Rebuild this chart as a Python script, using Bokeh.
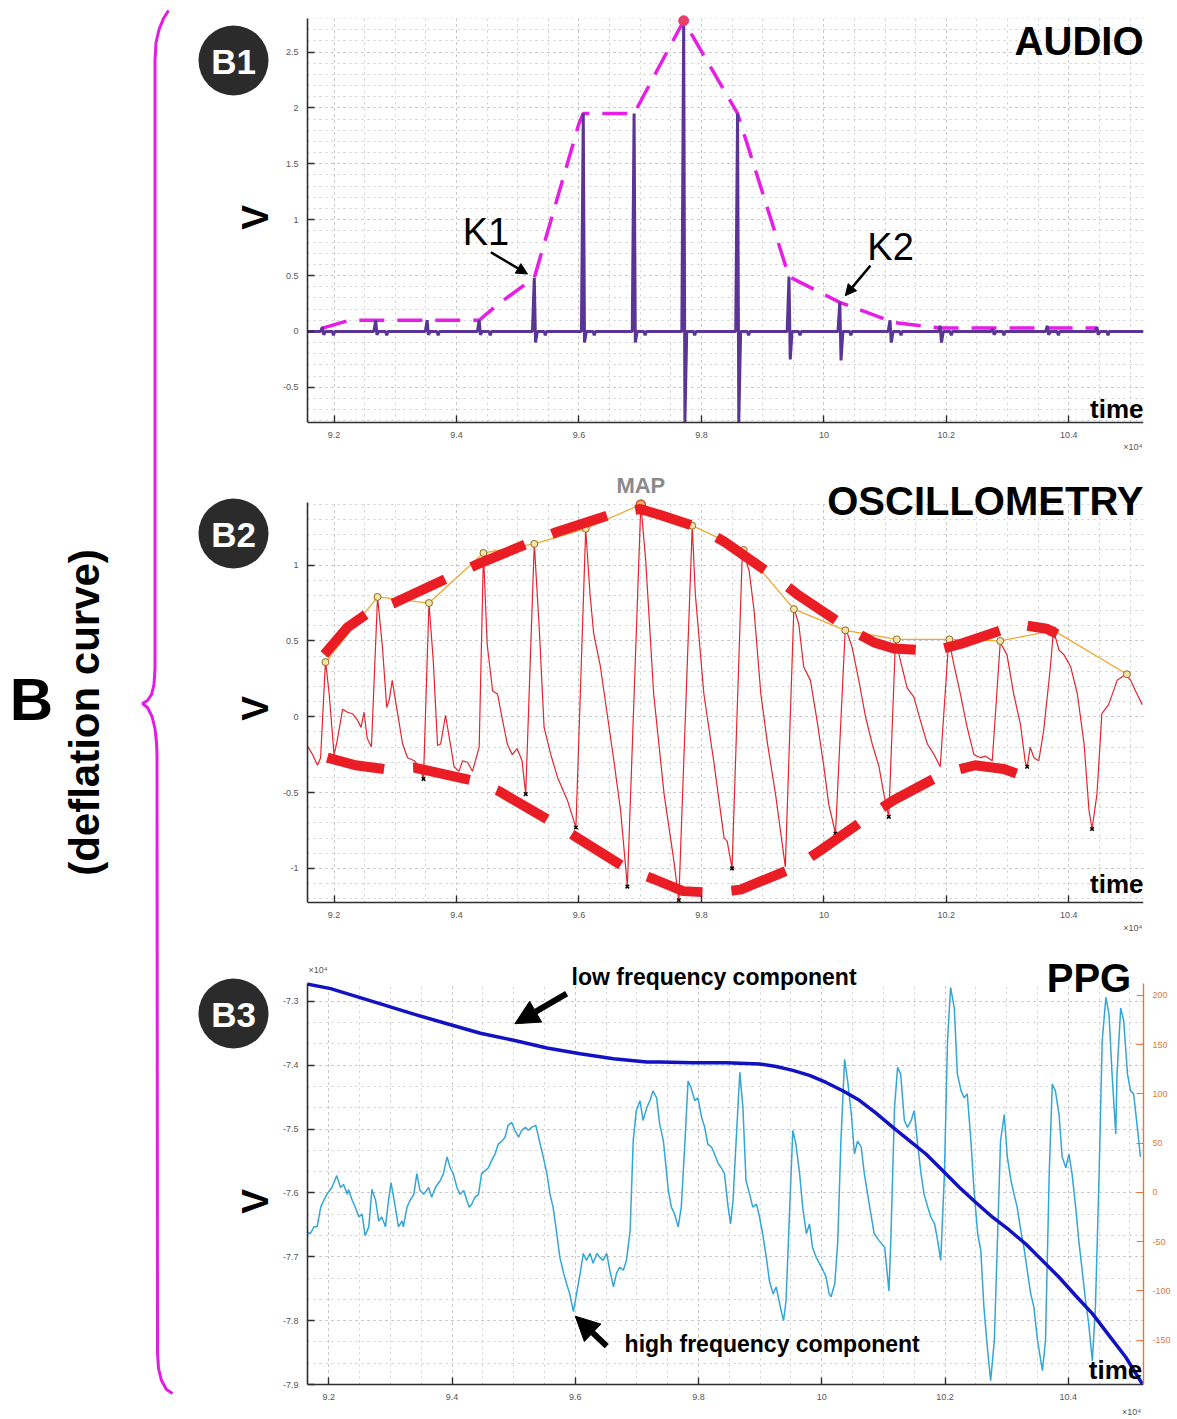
import math
from bokeh.plotting import figure
from bokeh.layouts import row, column
from bokeh.models import (Range1d, LinearAxis, SingleIntervalTicker, NumeralTickFormatter,
                          Label, Arrow, NormalHead, BoxAnnotation, Grid)
from bokeh.core.properties import value
from bokeh.embed import file_html
from bokeh.resources import INLINE

FONT = "Liberation Sans"

# ---------------- time axis (x 10^4 samples) ----------------
T_LO, T_HI = 9.1566, 10.522
T3_LO = 9.1655

# ---------------- B1: audio (Korotkoff sounds) ----------------
AUDIO_LIM = (-0.815, 2.80)
beat_time = [9.181, 9.268, 9.352, 9.437, 9.527, 9.607, 9.690, 9.771,
             9.859, 9.943, 10.026, 10.108, 10.190, 10.276, 10.365, 10.446]
beat_peak = [0.04, 0.10, 0.10, 0.10, 0.48, 1.95, 1.95, 2.78,
             1.95, 0.49, 0.26, 0.10, 0.05, 0.02, 0.05, 0.04]
beat_trough = [-0.03, -0.03, -0.03, -0.03, -0.10, -0.10, -0.10, -0.81,
               -0.81, -0.25, -0.26, -0.10, -0.10, -0.03, -0.03, -0.03]
env_time = [9.181, 9.225, 9.268, 9.352, 9.437, 9.467, 9.527, 9.600, 9.607,
            9.690, 9.771, 9.859, 9.943, 10.026, 10.114, 10.190, 10.276, 10.365, 10.446]
env_value = [0.03, 0.10, 0.10, 0.10, 0.10, 0.24, 0.48, 1.86, 1.95,
             1.95, 2.78, 1.95, 0.49, 0.26, 0.08, 0.03, 0.03, 0.03, 0.03]

# ---------------- B2: oscillometry ----------------
OSC_LIM = (-1.225, 1.413)
osc_t = [9.156, 9.165, 9.173, 9.178, 9.186, 9.192, 9.200, 9.205, 9.214, 9.222, 9.230, 9.238,
         9.244, 9.249, 9.254, 9.261, 9.271, 9.279, 9.286, 9.290, 9.295, 9.303, 9.312, 9.320,
         9.331, 9.339, 9.346, 9.355, 9.362, 9.369, 9.374, 9.382, 9.390, 9.396, 9.404, 9.410,
         9.418, 9.426, 9.437, 9.444, 9.450, 9.459, 9.467, 9.475, 9.483, 9.491, 9.499, 9.507,
         9.513, 9.527, 9.535, 9.543, 9.554, 9.565, 9.581, 9.595, 9.611, 9.618, 9.624, 9.635,
         9.646, 9.657, 9.668, 9.679, 9.701, 9.709, 9.722, 9.739, 9.755, 9.763, 9.785, 9.790,
         9.804, 9.820, 9.837, 9.842, 9.850, 9.867, 9.878, 9.886, 9.897, 9.908, 9.921, 9.937,
         9.951, 9.959, 9.967, 9.978, 9.989, 10.000, 10.008, 10.019, 10.035, 10.046, 10.057,
         10.068, 10.079, 10.090, 10.098, 10.106, 10.117, 10.125, 10.136, 10.147, 10.158,
         10.169, 10.180, 10.190, 10.204, 10.212, 10.223, 10.234, 10.245, 10.256, 10.264,
         10.275, 10.288, 10.299, 10.310, 10.321, 10.329, 10.332, 10.337, 10.343, 10.351,
         10.359, 10.370, 10.375, 10.384, 10.392, 10.403, 10.414, 10.425, 10.433, 10.438,
         10.446, 10.454, 10.465, 10.479, 10.493, 10.501, 10.509, 10.520]
osc_v = [-0.19, -0.25, -0.32, -0.27, 0.37, 0.15, -0.25, -0.16, 0.05, 0.03, 0.02, -0.02,
         -0.07, 0.03, -0.14, -0.20, 0.79, 0.46, 0.06, 0.11, 0.24, 0.04, -0.18, -0.27,
         -0.29, -0.33, -0.41, 0.75, 0.37, -0.19, -0.18, 0.01, -0.18, -0.33, -0.36, -0.29,
         -0.30, -0.36, -0.20, 1.08, 0.48, 0.17, 0.15, -0.02, -0.18, -0.25, -0.21, -0.29,
         -0.51, 1.14, 0.59, -0.07, -0.25, -0.40, -0.55, -0.73, 1.24, 0.81, 0.55, 0.33,
         0.02, -0.29, -0.62, -1.12, 1.40, 1.03, 0.15, -0.51, -0.95, -1.21, 1.26, 0.81,
         0.15, -0.29, -0.80, -0.82, -1.00, 1.11, 0.96, 0.70, 0.15, -0.18, -0.51, -0.99,
         0.72, 0.61, 0.33, 0.24, -0.03, -0.33, -0.58, -0.77, 0.59, 0.46, 0.24,
         0.00, -0.18, -0.33, -0.51, -0.66, 0.51, 0.37, 0.19, 0.13, -0.03,
         -0.18, -0.25, -0.33, 0.51, 0.35, 0.15, -0.07, -0.25, -0.27, -0.26,
         -0.29, 0.49, 0.41, 0.15, -0.05, -0.30, -0.33, -0.20, -0.27, -0.29,
         -0.09, 0.33, 0.57, 0.44, 0.41, 0.33, 0.15, -0.18, -0.62, -0.74,
         -0.51, 0.02, 0.08, 0.24, 0.28, 0.24, 0.17, 0.08]
peak_t = [9.186, 9.271, 9.355, 9.444, 9.527, 9.611, 9.701, 9.785, 9.869, 9.951,
          10.035, 10.119, 10.205, 10.288, 10.375, 10.495]
peak_v = [0.36, 0.79, 0.75, 1.08, 1.14, 1.24, 1.40, 1.26, 1.10, 0.71,
          0.57, 0.51, 0.51, 0.50, 0.57, 0.28]
map_index = 6
trough_t = [9.346, 9.513, 9.595, 9.679, 9.763, 9.850, 10.019, 10.106, 10.332, 10.438]
trough_v = [-0.41, -0.51, -0.73, -1.12, -1.21, -1.00, -0.77, -0.66, -0.33, -0.74]
upper_t = [9.184, 9.222, 9.254, 9.298, 9.388, 9.431, 9.521, 9.565, 9.657, 9.700, 9.733,
           9.801, 9.839, 9.924, 9.959, 10.041, 10.082, 10.114, 10.180, 10.223, 10.318,
           10.364, 10.381]
upper_v = [0.41, 0.59, 0.68, 0.75, 0.92, 1.00, 1.15, 1.22, 1.34, 1.37, 1.33,
           1.24, 1.15, 0.91, 0.80, 0.58, 0.49, 0.45, 0.435, 0.48, 0.61,
           0.58, 0.545]
lower_t = [9.189, 9.235, 9.282, 9.331, 9.426, 9.469, 9.554, 9.592, 9.679, 9.722, 9.770,
           9.818, 9.864, 9.954, 9.995, 10.076, 10.114, 10.198, 10.247, 10.294, 10.340]
lower_v = [-0.27, -0.32, -0.345, -0.335, -0.42, -0.49, -0.69, -0.785, -1.005, -1.07, -1.15,
           -1.16, -1.14, -0.99, -0.88, -0.65, -0.55, -0.37, -0.32, -0.345, -0.41]

# ---------------- B3: PPG ----------------
PPG_LIM = (-7.9, -7.272)
HF_LIM = (-195, 212)
lf_t = [9.160, 9.203, 9.284, 9.338, 9.392, 9.446, 9.500, 9.554, 9.608, 9.662, 9.716,
        9.737, 9.791, 9.845, 9.899, 9.926, 9.953, 9.980, 10.007, 10.034, 10.061, 10.088,
        10.115, 10.142, 10.169, 10.196, 10.223, 10.250, 10.277, 10.304, 10.331, 10.358,
        10.385, 10.412, 10.439, 10.466, 10.493, 10.520]
lf_v = [-7.272, -7.280, -7.304, -7.320, -7.335, -7.350, -7.361, -7.373, -7.382, -7.390,
        -7.395, -7.395, -7.396, -7.396, -7.398, -7.402, -7.408, -7.416, -7.427, -7.440,
        -7.455, -7.475, -7.497, -7.518, -7.539, -7.565, -7.591, -7.615, -7.638, -7.658,
        -7.680, -7.706, -7.732, -7.761, -7.789, -7.823, -7.857, -7.899]
hf_t = [9.157, 9.162, 9.170, 9.176, 9.181, 9.187, 9.192, 9.197, 9.205, 9.213, 9.219, 9.224,
        9.230, 9.232, 9.238, 9.243, 9.249, 9.254, 9.259, 9.265, 9.270, 9.276, 9.281, 9.286,
        9.292, 9.297, 9.301, 9.308, 9.313, 9.319, 9.321, 9.327, 9.332, 9.338, 9.343, 9.348,
        9.354, 9.362, 9.367, 9.373, 9.381, 9.386, 9.392, 9.397, 9.402, 9.408, 9.413, 9.419,
        9.424, 9.428, 9.432, 9.437, 9.443, 9.448, 9.454, 9.459, 9.464, 9.470, 9.475, 9.481,
        9.486, 9.491, 9.497, 9.502, 9.508, 9.513, 9.519, 9.524, 9.529, 9.536, 9.543, 9.548,
        9.554, 9.559, 9.564, 9.570, 9.575, 9.581, 9.586, 9.591, 9.597, 9.602, 9.608, 9.613,
        9.618, 9.624, 9.629, 9.635, 9.640, 9.645, 9.651, 9.656, 9.662, 9.667, 9.672, 9.678,
        9.683, 9.689, 9.694, 9.699, 9.705, 9.710, 9.716, 9.721, 9.726, 9.732, 9.737, 9.743,
        9.751, 9.756, 9.761, 9.767, 9.772, 9.778, 9.783, 9.788, 9.794, 9.799, 9.805, 9.810,
        9.815, 9.821, 9.826, 9.832, 9.837, 9.842, 9.848, 9.852, 9.856, 9.861, 9.867, 9.872,
        9.877, 9.883, 9.888, 9.894, 9.899, 9.904, 9.910, 9.915, 9.921, 9.926, 9.934, 9.938,
        9.942, 9.948, 9.953, 9.958, 9.964, 9.969, 9.975, 9.980, 9.985, 9.991, 9.996, 10.002,
        10.007, 10.012, 10.015, 10.021, 10.026, 10.031, 10.037, 10.042, 10.048, 10.053,
        10.058, 10.064, 10.069, 10.077, 10.085, 10.093, 10.102, 10.109, 10.112, 10.118,
        10.123, 10.128, 10.134, 10.139, 10.145, 10.150, 10.156, 10.161, 10.166, 10.172,
        10.177, 10.183, 10.188, 10.193, 10.199, 10.204, 10.209, 10.215, 10.220, 10.226,
        10.231, 10.236, 10.242, 10.247, 10.253, 10.258, 10.263, 10.269, 10.274, 10.280,
        10.285, 10.290, 10.296, 10.301, 10.307, 10.312, 10.317, 10.323, 10.328, 10.334,
        10.339, 10.344, 10.350, 10.358, 10.363, 10.369, 10.374, 10.379, 10.385, 10.390,
        10.396, 10.401, 10.406, 10.412, 10.417, 10.423, 10.428, 10.433, 10.439, 10.444,
        10.450, 10.455, 10.461, 10.466, 10.471, 10.477, 10.479, 10.485, 10.490, 10.496,
        10.501, 10.506, 10.512, 10.517]
hf_v = [-8, -39, -42, -35, -35, -15, -8, -2, 5, 17, 5, 8,
        -2, 3, -8, -15, -25, -22, -44, -35, 3, -8, -29, -25,
        -35, -8, 10, -15, -35, -29, -35, -15, -8, -2, 19, 2,
        -2, 5, -5, 5, 12, 19, 36, 25, 19, 5, -2, 2,
        -8, -15, -12, -5, -2, 19, 22, 25, 32, 39, 49, 52,
        56, 68, 71, 63, 56, 63, 66, 63, 66, 68, 49, 36,
        19, -2, -15, -42, -66, -82, -93, -103, -121, -103, -82, -62,
        -69, -62, -72, -62, -66, -69, -62, -79, -96, -82, -76, -79,
        -69, -39, 52, 83, 93, 73, 86, 93, 103, 96, 69, 52,
        2, -15, -22, -35, -15, 52, 113, 106, 93, 96, 76, 66,
        49, 46, 39, 29, 25, 19, -15, -32, -8, 52, 122, 86,
        12, -2, -15, -12, -25, -42, -66, -90, -103, -96, -120, -130,
        -110, -15, 63, 49, 19, -15, -42, -32, -56, -66, -72, -79,
        -86, -103, -106, -93, -49, 52, 135, 113, 79, 39,
        52, 46, 19, -12, -42, -49, -56, -100, -49, 86,
        127, 120, 73, 66, 73, 83, 46, 19, -2, -15,
        -25, -32, -49, -69, 19, 154, 208, 187, 120, 103,
        96, 100, 52, 2, -42, -59, -116, -160, -191, -150,
        -49, 52, 79, 36, 12, -2, -15, -39, -56, -82,
        -103, -116, -150, -181, -150, 19, 110, 103, 79, 36,
        25, 39, 19, -15, -49, -82, -110, -133, -171, -116,
        19, 154, 198, 181, 120, 59, 120, 187, 174, 120,
        103, 100, 66, 36]

AXIS_COLOR = "#2e2e2e"
TICK_COLOR = "#555555"
SIDE_W = 276
PANEL_LEFT = 31
FRAME_W = 836


def panel(t_lo, lim, fig_h, pad_top, pad_bottom, y_interval, y_minor):
    """One strip: the frame fills the whole strip so that the titles and notes around the
    axes box can be drawn; the axes themselves are bounded to the box."""
    lo, hi = lim
    unit = (hi - lo) / (fig_h - pad_top - pad_bottom)
    p = figure(x_range=Range1d(t_lo, T_HI),
               y_range=Range1d(lo - pad_bottom * unit, hi + pad_top * unit),
               frame_width=FRAME_W, frame_height=fig_h,
               min_border_left=PANEL_LEFT, min_border_right=34,
               min_border_top=0, min_border_bottom=0,
               output_backend="svg", toolbar_location=None, outline_line_color=None,
               background_fill_color="white", border_fill_color="white")
    p.xaxis.ticker = SingleIntervalTicker(interval=0.2, num_minor_ticks=4)
    p.yaxis.ticker = SingleIntervalTicker(interval=y_interval, num_minor_ticks=y_minor)
    p.xaxis.fixed_location = lo
    p.yaxis.bounds = (lo, hi)
    for ax in p.axis:
        ax.axis_line_color = AXIS_COLOR
        ax.axis_line_width = 1.6
        ax.major_tick_in = 7
        ax.major_tick_out = 0
        ax.major_tick_line_color = AXIS_COLOR
        ax.major_tick_line_width = 1.4
        ax.minor_tick_line_color = None
        ax.major_label_text_font = FONT
        ax.major_label_text_font_size = "9px"
        ax.major_label_text_color = TICK_COLOR
        ax.major_label_standoff = 5
        ax.formatter = NumeralTickFormatter(format="0.[0]")
    for g in (p.xgrid, p.ygrid):
        g.grid_line_color = "#bdbdbd"
        g.grid_line_dash = "2 4"
        g.minor_grid_line_color = "#cdcdcd"
        g.minor_grid_line_dash = "2 4"
    p.ygrid.bounds = (lo, hi)
    if "cross_bounds" in Grid.properties():
        p.xgrid.cross_bounds = (lo, hi)
    # keep the dotted grid inside the axes box
    for kw in ({"bottom": hi}, {"top": lo}):
        p.add_layout(BoxAnnotation(fill_color="white", fill_alpha=1.0, line_color=None,
                                   level="underlay", **kw))
    return p


def label(p, x, y, text, size, align="left", bold=True, color="black"):
    p.add_layout(Label(x=x, y=y, text=text, text_font=FONT, text_font_size=size,
                       text_font_style="bold" if bold else "normal", text_color=color,
                       text_align=align, text_baseline="middle"))


def arrow(p, x0, y0, x1, y1, width, head):
    p.add_layout(Arrow(end=NormalHead(size=head, fill_color="black", line_color="black"),
                       x_start=x0, y_start=y0, x_end=x1, y_end=y1,
                       line_width=width, line_color="black"))


# ======================= B1 AUDIO =======================
p1 = panel(T_LO, AUDIO_LIM, 455, 18, 33, 0.5, 5)

trace_t, trace_v = [T_LO], [0.0]
for t, up, dn in zip(beat_time, beat_peak, beat_trough):
    trace_t += [t - 0.003, t, t + 0.002, t + 0.005, t + 0.016, t + 0.018, t + 0.020]
    trace_v += [0.0, up, dn, 0.0, 0.0, -0.035, 0.0]
trace_t.append(T_HI)
trace_v.append(0.0)

p1.line(env_time, env_value, line_color="#e61ee6", line_width=3.5, line_dash="25 13")
p1.line(trace_t, trace_v, line_color="#5b3596", line_width=3)
p1.scatter([beat_time[7]], [beat_peak[7]], size=10, color="#e8406a")

label(p1, 10.522, 2.598, "AUDIO", "40px", align="right")
label(p1, 10.522, -0.695, "time", "26px", align="right")
label(p1, 9.410, 0.891, "K1", "38px", bold=False)
label(p1, 10.071, 0.757, "K2", "38px", bold=False)
label(p1, 10.52, -1.030, "×10⁴", "9px", align="right", bold=False, color=TICK_COLOR)
arrow(p1, 9.456, 0.708, 9.516, 0.514, 2.5, 11)
arrow(p1, 10.076, 0.589, 10.035, 0.32, 2.5, 11)

# ======================= B2 OSCILLOMETRY =======================
p2 = panel(T_LO, OSC_LIM, 480, 47, 33, 0.5, 5)

p2.line(osc_t, osc_v, line_color="#e0262e", line_width=1.2)
p2.line(peak_t, peak_v, line_color="#f0a830", line_width=1.3)
p2.scatter(peak_t, peak_v, size=7, fill_color="#f6e4a6", line_color="#8a6a2a", line_width=1)
p2.scatter([peak_t[map_index]], [peak_v[map_index]], size=9, fill_color="#f3b070",
           line_color="#c0501e", line_width=1.5)
p2.scatter(trough_t, trough_v, marker="x", size=5, line_color="black", line_width=1.5)
p2.line(upper_t, upper_v, line_color="#ea1c24", line_width=10, line_dash="58 29")
p2.line(lower_t, lower_v, line_color="#ea1c24", line_width=10, line_dash="58 29")

label(p2, 10.522, 1.422, "OSCILLOMETRY", "40px", align="right")
label(p2, peak_t[map_index], 1.525, "MAP", "22px", align="center", color="#8a8a8a")
label(p2, 10.522, -1.104, "time", "26px", align="right")
label(p2, 10.52, -1.391, "×10⁴", "9px", align="right", bold=False, color=TICK_COLOR)

# ======================= B3 PPG =======================
p3 = panel(T3_LO, PPG_LIM, 484, 48, 35, 0.1, 3)
hf_unit = (HF_LIM[1] - HF_LIM[0]) / (484 - 48 - 35)
p3.extra_y_ranges = {"hf": Range1d(HF_LIM[0] - 35 * hf_unit, HF_LIM[1] + 48 * hf_unit)}
ax_r = LinearAxis(y_range_name="hf", ticker=SingleIntervalTicker(interval=50),
                  formatter=NumeralTickFormatter(format="0"), bounds=HF_LIM)
ax_r.axis_line_color = "#e07a3c"
ax_r.axis_line_width = 1.4
ax_r.major_tick_in = 7
ax_r.major_tick_out = 0
ax_r.major_tick_line_color = "#e07a3c"
ax_r.minor_tick_line_color = None
ax_r.major_label_text_font = FONT
ax_r.major_label_text_font_size = "9px"
ax_r.major_label_text_color = "#e07a3c"
ax_r.major_label_standoff = 5
p3.add_layout(ax_r, "right")

p3.line(hf_t, hf_v, y_range_name="hf", line_color="#34a6d6", line_width=1.5)
p3.line(lf_t, lf_v, line_color="#1212c4", line_width=3.5)

label(p3, 10.502, -7.2635, "PPG", "40px", align="right")
label(p3, 9.594, -7.2621, "low frequency component", "23px")
label(p3, 9.680, -7.8369, "high frequency component", "23px")
label(p3, 10.52, -7.8775, "time", "26px", align="right")
label(p3, 9.167, -7.2501, "×10⁴", "9px", bold=False, color=TICK_COLOR)
label(p3, 10.518, -7.9423, "×10⁴", "9px", align="right", bold=False, color=TICK_COLOR)
arrow(p3, 9.586, -7.288, 9.502, -7.335, 6, 24)
arrow(p3, 9.651, -7.840, 9.600, -7.793, 6, 24)

# ======================= left strip: brace, panel badges, axis names =======================
side = figure(x_range=Range1d(0, SIDE_W), y_range=Range1d(1419, 0),
              frame_width=SIDE_W, frame_height=1419,
              x_axis_type=None, y_axis_type=None, min_border=0, output_backend="svg",
              toolbar_location=None, outline_line_color=None)
side.grid.visible = False

brace_x = [168, 163, 158.5, 155.5, 154.5, 154.5, 153.5, 151, 147, 142,
           147, 151.5, 154.5, 156, 156.5, 157, 158, 161, 166, 172]
brace_y = [10, 18, 29, 42, 60, 668, 684, 694, 700, 703,
           707, 716, 728, 742, 755, 1352, 1368, 1380, 1389, 1393]
side.line(brace_x, brace_y, line_color="#e41be6", line_width=3)

side.text([31], [699], text=["B"], text_font=value(FONT), text_font_style="bold",
          text_font_size="60px", text_align="center", text_baseline="middle", text_color="black")
side.text([84], [712], text=["(deflation curve)"], angle=math.pi / 2, text_font=value(FONT),
          text_font_style="bold", text_font_size="42px", text_align="center",
          text_baseline="middle", text_color="black")

badge_x = [233, 233, 233]
badge_y = [60, 533, 1013]
side.scatter(badge_x, badge_y, size=70, fill_color="#2b2b2b", line_color=None)
side.text(badge_x, [y + 1 for y in badge_y], text=["B1", "B2", "B3"], text_font=value(FONT),
          text_font_style="bold", text_font_size="35px", text_align="center",
          text_baseline="middle", text_color="white")
side.text([255, 255, 255], [217, 708, 1201], text=["V", "V", "V"], angle=math.pi / 2,
          text_font=value(FONT), text_font_style="bold", text_font_size="37px",
          text_align="center", text_baseline="middle", text_color="black")

layout = row(side, column(p1, p2, p3))
open("out.html", "w").write(file_html(layout, INLINE))
